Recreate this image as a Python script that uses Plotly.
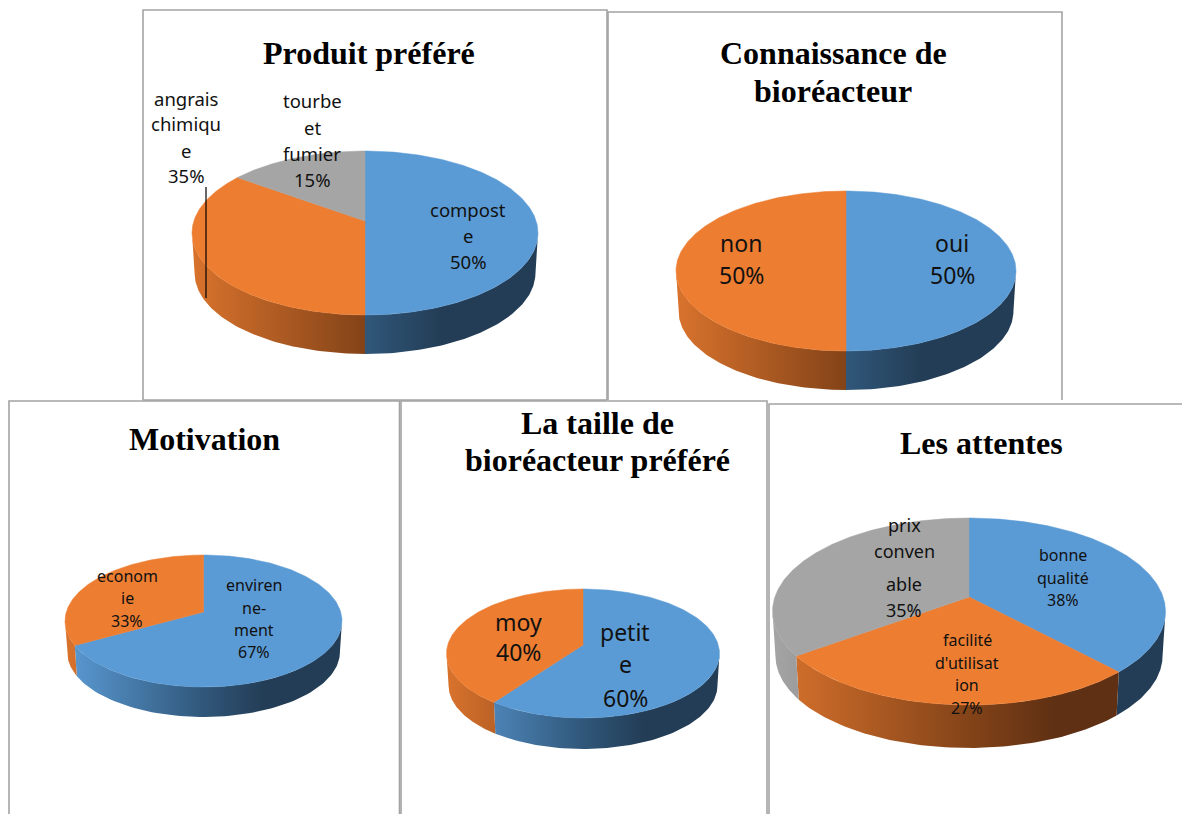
import numpy as np
import plotly.graph_objects as go

# ---- data ----
produit_values = [50, 35, 15]
produit_labels = [["compost", "e"], ["angrais", "chimiqu", "e"], ["tourbe", "et", "fumier"]]
connaissance_values = [50, 50]
connaissance_labels = [["oui"], ["non"]]
motivation_values = [67, 33]
motivation_labels = [["enviren", "ne-", "ment"], ["econom", "ie"]]
taille_values = [60, 40]
taille_labels = [["petit", "e"], ["moy"]]
attentes_values = [38, 27, 35]
attentes_labels = [["bonne", "qualité"], ["facilité", "d'utilisat", "ion"], ["prix", "conven", "able"]]

titles = [
    ["Produit préféré"],
    ["Connaissance de", "bioréacteur"],
    ["Motivation"],
    ["La taille de", "bioréacteur préféré"],
    ["Les attentes"],
]

# ---- styles and layout ----
TOP = ["#5B9BD5", "#ED7D31", "#A5A5A5"]
WALL = [
    [[0, "#5B9BD5"], [0.5, "#30577A"], [0.72, "#233D56"], [1, "#233D56"]],
    [[0, "#D9732D"], [0.5, "#834318"], [0.72, "#5F3013"], [1, "#5F3013"]],
    [[0, "#A5A5A5"], [0.5, "#636363"], [0.72, "#454545"], [1, "#454545"]],
]
SERIF = "Liberation Serif"
SANS = "Noto Sans"

# cx, apex y, extent above apex, extent below apex, half width, wall depth
panels = [
    dict(values=produit_values, labels=produit_labels, geo=(365, 221, 70, 94, 173, 39), sizes=[18.5, 18.5, 18.5],
         text_x=[468, 186, 312],
         text_y=[[209, 235, 261], [98, 123, 150, 175], [100, 127, 153, 179]],
         title_x=369, title_y=[53]),
    dict(values=connaissance_values, labels=connaissance_labels, geo=(846, 259, 68, 92, 170, 39), sizes=[23, 23],
         text_x=[952, 741],
         text_y=[[243, 275], [243, 275]],
         title_x=833, title_y=[53, 91]),
    dict(values=motivation_values, labels=motivation_labels, geo=(203.5, 612, 57, 75, 138.5, 30), sizes=[16, 16],
         text_x=[254, 127],
         text_y=[[585, 608, 630, 652], [576, 598, 621]],
         title_x=204, title_y=[439]),
    dict(values=taille_values, labels=taille_labels, geo=(583, 645, 56, 73, 136.5, 31), sizes=[23, 23],
         text_x=[625, 518],
         text_y=[[632, 664, 698], [622, 652]],
         title_x=597, title_y=[423, 460]),
    dict(values=attentes_values, labels=attentes_labels, geo=(969, 597, 79, 108, 196.5, 43), sizes=[16, 16, 18],
         text_x=[1063, 967, 904],
         text_y=[[555, 578, 600], [640, 663, 685, 708], [525, 551, 584, 610]],
         title_x=981, title_y=[443]),
]

BORDER = "#A3A3A3"
RIM_SCALE = 0.985
frames = [
    ([143, 143, 607, 607], [400, 10, 10, 400]),
    ([608, 608, 1062, 1062], [400, 12, 12, 400]),
    ([143, 607], [400, 400]),
    ([9, 9, 399.5, 399.5], [814, 401, 401, 814]),
    ([401, 401, 767, 767], [814, 401, 401, 814]),
    ([769, 769, 1182], [814, 404, 404]),
]

fig = go.Figure()


def project(theta, geo, scale=1.0, dy=0.0):
    cx, ay, up, down, hw, _ = geo
    k = (down - up) / (down + up)
    ry = up * (1 + k)
    rx = hw * np.sqrt(1 - k * k)
    w = 1 + k * np.cos(theta)
    return cx + scale * rx * np.sin(theta) / w, ay + dy - scale * ry * np.cos(theta) / w


for xs, ys in frames:
    fig.add_trace(go.Scatter(x=xs, y=ys, mode="lines", line=dict(color=BORDER, width=1.6), hoverinfo="skip"))

for p in panels:
    geo = p["geo"]
    cx, ay, up, down, hw, depth = geo
    k = (down - up) / (down + up)
    vis0 = np.arccos(-k)
    vis1 = 2 * np.pi - vis0
    edges = np.cumsum([0] + p["values"]) / sum(p["values"]) * 2 * np.pi
    # side walls first
    for i in range(len(p["values"])):
        a, b = max(edges[i], vis0), min(edges[i + 1], vis1)
        if b <= a:
            continue
        t = np.linspace(a, b, 80)
        x0, y0 = project(t, geo)
        x1, y1 = project(t[::-1], geo, scale=RIM_SCALE, dy=depth + (1 - RIM_SCALE) * down)
        fig.add_trace(go.Scatter(
            x=np.r_[x0, x1, x0[:1]], y=np.r_[y0, y1, y0[:1]], mode="lines", fill="toself",
            line=dict(width=0), hoverinfo="skip",
            fillgradient=dict(type="horizontal", colorscale=WALL[i], start=cx - hw, stop=cx + hw),
        ))
    # top faces
    for i in range(len(p["values"])):
        t = np.linspace(edges[i], edges[i + 1], 200)
        x0, y0 = project(t, geo)
        fig.add_trace(go.Scatter(
            x=np.r_[cx, x0, cx], y=np.r_[ay, y0, ay], mode="lines", fill="toself",
            fillcolor=TOP[i], line=dict(width=0.5, color=TOP[i]), hoverinfo="skip",
        ))

# leader line of "angrais chimique"
fig.add_trace(go.Scatter(x=[206, 206], y=[187, 298], mode="lines", line=dict(color="#000000", width=1.2), hoverinfo="skip"))

annotations = []
for p, title in zip(panels, titles):
    for line, y in zip(title, p["title_y"]):
        annotations.append(dict(x=p["title_x"], y=y, text=f"<b>{line}</b>", showarrow=False,
                                xanchor="center", yanchor="middle",
                                font=dict(family=SERIF, size=32, color="#000000")))
    for lines, v, x, ys, size in zip(p["labels"], p["values"], p["text_x"], p["text_y"], p["sizes"]):
        for line, y in zip(lines + [f"{v}%"], ys):
            annotations.append(dict(x=x, y=y, text=line, showarrow=False,
                                    xanchor="center", yanchor="middle",
                                    font=dict(family=SANS, size=size, color="#111111")))

fig.update_layout(
    width=1182, height=814, margin=dict(l=0, r=0, t=0, b=0), showlegend=False,
    paper_bgcolor="#FFFFFF", plot_bgcolor="#FFFFFF",
    xaxis=dict(range=[0, 1182], visible=False, fixedrange=True),
    yaxis=dict(range=[814, 0], visible=False, fixedrange=True),
    annotations=annotations,
)
fig.write_html("out.html", config=dict(displayModeBar=False),
               post_script="document.body.style.margin='0';document.documentElement.style.overflow='hidden';")
